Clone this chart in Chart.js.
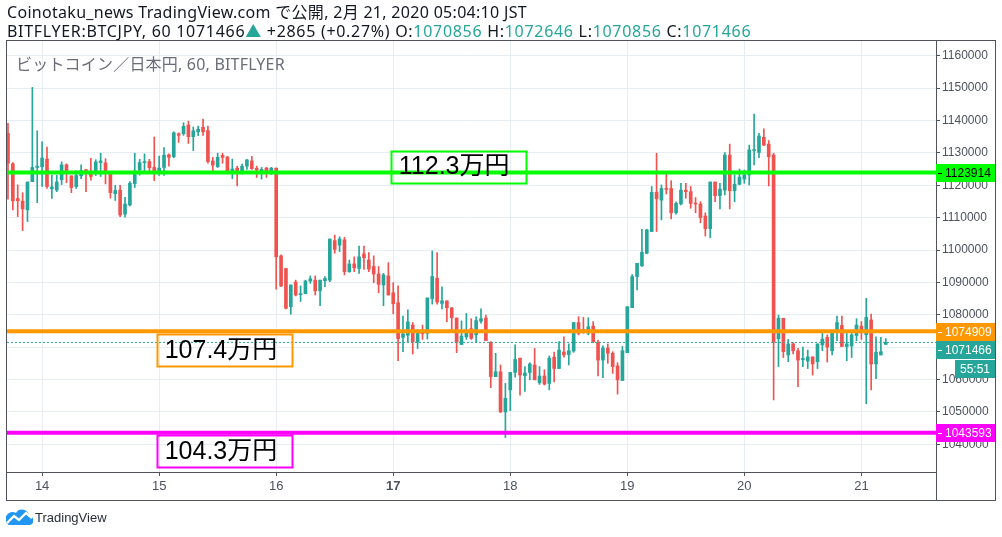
<!DOCTYPE html>
<html>
<head>
<meta charset="utf-8">
<script src="https://cdn.jsdelivr.net/npm/chart.js@4/dist/chart.umd.min.js"></script>
<style>
  body { margin: 0; background: #fff; width: 1002px; height: 537px; overflow: hidden; position: relative; }
  #chart { position: absolute; left: 0; top: 0; }
  #hdr { position: absolute; left: 7px; top: 3px; font: 16px "Noto Sans", "Noto Sans CJK JP", sans-serif; color: #131722; line-height: 19px; white-space: nowrap; }
  #hdr .l1 { letter-spacing: 0.3px; }
  #hdr .l2 { letter-spacing: 0.7px; }
  #hdr .v { color: #26a69a; }
  #legend { position: absolute; left: 16px; top: 51px; font: 16px "Noto Sans", "Noto Sans CJK JP", sans-serif; letter-spacing: 0.2px; color: #6a6d78; white-space: nowrap; }
  #foot { position: absolute; left: 6px; top: 508px; font: 13px "Liberation Sans", sans-serif; color: #2a2e39; display: flex; align-items: center; }
  #foot svg { margin-right: 2px; }
</style>
</head>
<body>
<canvas id="chart" width="1002" height="537"></canvas>
<div id="hdr">
  <div class="l1">Coinotaku_news TradingView.com で公開, 2月 21, 2020 05:04:10 JST</div>
  <div class="l2">BITFLYER:BTCJPY, 60 1071466<span class="v">▲</span> +2865 (+0.27%) O:<span class="v">1070856</span> H:<span class="v">1072646</span> L:<span class="v">1070856</span> C:<span class="v">1071466</span></div>
</div>
<div id="legend">ビットコイン／日本円, 60, BITFLYER</div>
<div id="foot">
  <svg width="27" height="18" viewBox="0 0 27 18"><path d="M3 17 H23 A4.5 4.5 0 0 0 23 8 A7 7 0 0 0 10 5 A6 6 0 0 0 3 17Z" fill="#2196f3"/><polyline points="1,15 8,8 13,12 20,5 26,10" stroke="#fff" stroke-width="2.4" fill="none"/></svg>
  <span>TradingView</span>
</div>
<script>
// hourly candles, first one is 13 Feb 17:00 (hour -7 from 14 Feb 00:00)
const FIRST_HOUR = -7;
const OPEN = [
  1136000, 1126600, 1115900, 1115100, 1112400, 1121100, 1125500, 1125700, 1128100, 1118900,
  1118500, 1121700, 1126300, 1122900, 1119600, 1122900, 1124700, 1123700, 1123900, 1127000,
  1126900, 1124200, 1117400, 1118500, 1111100, 1113900, 1120500, 1124700, 1127000, 1127300,
  1125500, 1124200, 1125500, 1129400, 1128800, 1135900, 1135900, 1138600, 1135000, 1136500,
  1137900, 1136900, 1127500, 1125700, 1129200, 1128700, 1124500, 1125300, 1124100, 1125900,
  1127500, 1125200, 1124500, 1125300, 1124100, 1125300, 1098200, 1094300, 1082500, 1090100,
  1086200, 1086500, 1090400, 1090700, 1087400, 1090500, 1090700, 1102900, 1101500, 1103100,
  1093300, 1095700, 1094300, 1098800, 1096900, 1094900, 1092600, 1089200, 1092000, 1086800,
  1083700, 1073000, 1073700, 1076800, 1071600, 1074500, 1074300, 1085000, 1091300, 1083500,
  1084300, 1082100, 1079000, 1070800, 1073200, 1075700, 1073800, 1078000, 1079000, 1071500,
  1060900, 1062400, 1050000, 1056800, 1062200, 1066600, 1061200, 1062200, 1064500, 1059000,
  1061100, 1058800, 1066900, 1063400, 1068500, 1067700, 1068800, 1077600, 1075500, 1074300,
  1076500, 1071500, 1066000, 1069700, 1068100, 1064200, 1059700, 1068300, 1082200, 1091800,
  1095100, 1099000, 1105700, 1117800, 1115400, 1119000, 1119000, 1111500, 1114200, 1118500,
  1118000, 1114500, 1114200, 1110500, 1106600, 1121000, 1116800, 1118500, 1129300, 1118300,
  1120300, 1121900, 1123200, 1130700, 1130100, 1134800, 1132700, 1129300, 1072600, 1078900,
  1067600, 1071000, 1068900, 1066100, 1065700, 1067000, 1065500, 1070700, 1073000, 1068900,
  1074500, 1076700, 1070200, 1070400, 1073600, 1076500, 1073800, 1078400, 1064800, 1067600,
  1070856
];
const HIGH = [
  1139100, 1127000, 1120100, 1117700, 1121000, 1150200, 1136800, 1133400, 1131800, 1123100,
  1123100, 1127200, 1126600, 1122900, 1124500, 1126300, 1124900, 1128300, 1127900, 1129900,
  1128200, 1124200, 1120000, 1120000, 1116300, 1121100, 1129900, 1128000, 1129700, 1128000,
  1134900, 1129000, 1131600, 1129700, 1136500, 1136200, 1139300, 1139800, 1138000, 1138300,
  1140400, 1138300, 1128600, 1129900, 1129900, 1128900, 1128100, 1125900, 1126500, 1128000,
  1128900, 1125900, 1125500, 1125500, 1125500, 1125300, 1098500, 1094300, 1089200, 1090700,
  1088900, 1090700, 1092000, 1092000, 1090700, 1091800, 1103400, 1104600, 1104100, 1103900,
  1096900, 1097900, 1101200, 1101200, 1099200, 1098200, 1094900, 1092800, 1096100, 1089900,
  1088900, 1079600, 1081500, 1077600, 1075500, 1076800, 1085200, 1099700, 1099200, 1088600,
  1084300, 1082300, 1079000, 1078100, 1080400, 1078800, 1079400, 1081800, 1079900, 1071700,
  1068100, 1064500, 1058800, 1062200, 1070700, 1066600, 1064000, 1065200, 1069600, 1064000,
  1063000, 1067300, 1068500, 1071700, 1073200, 1071000, 1077600, 1079400, 1079200, 1079100,
  1077900, 1072200, 1070400, 1071000, 1068600, 1065200, 1070200, 1082500, 1092400, 1095900,
  1106400, 1106400, 1119600, 1129900, 1120100, 1123400, 1121400, 1114900, 1120600, 1120600,
  1119600, 1116200, 1114900, 1111500, 1121000, 1121000, 1120600, 1130100, 1132700, 1123200,
  1125000, 1124700, 1132400, 1142000, 1136000, 1137400, 1133800, 1129900, 1079900, 1078900,
  1072400, 1071400, 1069600, 1070000, 1069100, 1067000, 1071000, 1074500, 1073800, 1074300,
  1079600, 1079600, 1074300, 1074500, 1078800, 1077900, 1085100, 1080200, 1073200, 1073000,
  1072646
];
const LOW = [
  1115700, 1112400, 1110300, 1106000, 1108800, 1121100, 1114600, 1119600, 1119000, 1115900,
  1118000, 1120200, 1120800, 1117700, 1119000, 1122000, 1118000, 1121600, 1123000, 1122700,
  1120400, 1116000, 1115300, 1110300, 1110100, 1113600, 1119300, 1123100, 1124100, 1124200,
  1121400, 1123000, 1123000, 1125900, 1128500, 1133200, 1135400, 1132900, 1130700, 1135300,
  1135400, 1126800, 1124500, 1125500, 1126800, 1124200, 1122000, 1119800, 1123400, 1124900,
  1124900, 1122400, 1121900, 1122400, 1123300, 1087900, 1088700, 1081800, 1080200, 1085800,
  1084100, 1086500, 1089700, 1086100, 1082800, 1088700, 1090200, 1099000, 1099500, 1092300,
  1093100, 1093300, 1092800, 1094000, 1093300, 1089900, 1086800, 1082800, 1086100, 1080300,
  1065800, 1068600, 1071700, 1067900, 1069600, 1072400, 1072500, 1083300, 1083300, 1081800,
  1077900, 1075300, 1068300, 1070800, 1072400, 1072400, 1071400, 1077400, 1072000, 1057500,
  1060900, 1049800, 1042100, 1050400, 1060700, 1055200, 1056300, 1059900, 1059900, 1058500,
  1058300, 1056800, 1059300, 1063400, 1066900, 1064500, 1068400, 1073800, 1074300, 1073800,
  1071400, 1061100, 1060600, 1065000, 1061900, 1055500, 1059700, 1068300, 1082200, 1087700,
  1094900, 1098800, 1105700, 1105700, 1109300, 1117300, 1109600, 1111100, 1113900, 1116000,
  1112900, 1111500, 1108400, 1104300, 1103800, 1114900, 1112700, 1117000, 1112700, 1114900,
  1120100, 1120600, 1120100, 1126300, 1128500, 1132200, 1119800, 1053700, 1064000, 1066800,
  1065500, 1067900, 1057800, 1064000, 1063400, 1061400, 1063400, 1068900, 1065400, 1067600,
  1072000, 1070200, 1065800, 1066800, 1072000, 1072400, 1052500, 1056800, 1060300, 1067600,
  1070856
];
const CLOSE = [
  1126800, 1115200, 1115200, 1112700, 1121000, 1125500, 1125900, 1128400, 1119600, 1119500,
  1121000, 1126300, 1124300, 1119300, 1123000, 1124500, 1124500, 1122700, 1127200, 1127500,
  1124200, 1117700, 1118400, 1110800, 1114200, 1120600, 1124400, 1127000, 1127200, 1125400,
  1124100, 1125300, 1129300, 1128600, 1136200, 1135400, 1138200, 1135000, 1136800, 1137300,
  1136500, 1127300, 1126200, 1128600, 1128600, 1124300, 1125000, 1124100, 1125900, 1127800,
  1125100, 1124700, 1124900, 1124100, 1125300, 1097900, 1088900, 1082000, 1089200, 1086100,
  1086500, 1090400, 1091100, 1087400, 1090700, 1091200, 1103400, 1100200, 1103400, 1093300,
  1095700, 1094500, 1097900, 1097600, 1094100, 1092600, 1089400, 1092300, 1086100, 1083400,
  1072600, 1074100, 1077800, 1071600, 1074300, 1074100, 1085200, 1091800, 1083900, 1084300,
  1082200, 1079100, 1071500, 1073400, 1074300, 1072700, 1078200, 1078800, 1072000, 1060900,
  1062400, 1050000, 1054200, 1062200, 1066200, 1061400, 1062000, 1064800, 1059900, 1061100,
  1058600, 1066600, 1063400, 1069100, 1067600, 1068900, 1077600, 1074300, 1075100, 1076300,
  1071600, 1066000, 1069700, 1068100, 1064000, 1059900, 1068900, 1082500, 1091800, 1095900,
  1099300, 1106200, 1117800, 1115800, 1119000, 1118700, 1111500, 1114400, 1118500, 1118000,
  1114400, 1114200, 1110000, 1106600, 1121000, 1116800, 1118800, 1129300, 1118300, 1120300,
  1122500, 1123200, 1130900, 1131000, 1135200, 1132400, 1128800, 1071500, 1078900, 1068600,
  1071000, 1068900, 1066000, 1066500, 1067000, 1064800, 1071000, 1072500, 1070000, 1074300,
  1077600, 1070200, 1071000, 1073800, 1076800, 1075100, 1079200, 1064800, 1068400, 1068600,
  1071466
];
const DAY_LABELS = ['14', '15', '16', '17', '18', '19', '20', '21'];
const PRICE_TICKS = [1040000, 1050000, 1060000, 1070000, 1080000, 1090000, 1100000,
                     1110000, 1120000, 1130000, 1140000, 1150000, 1160000];
const LEVELS = [1123914, 1074909, 1043593];
const LEVEL_COLORS = ['#00ff00', '#ff9800', '#ff00ff'];
const LEVEL_NOTES = ['112.3万円', '107.4万円', '104.3万円'];
const LAST_PRICE = 1071466;
const COUNTDOWN = '55:51';

const UP = '#26a69a';
const DOWN = '#ef5350';
const FRAME = '#50535e';
const GRID = '#e6eef4';
const X_MIN = -7.2, X_MAX = 183.3;
const X_END = [X_MIN, X_MAX];

const candleColor = OPEN.map((o, i) => CLOSE[i] >= o ? UP : DOWN);
const hourOf = i => FIRST_HOUR + i;

const levelLine = (y, color, width, dash) => ({
    type: 'line',
    data: X_END.map(x => ({ x: x, y: y })),
    borderColor: color,
    borderWidth: width,
    borderDash: dash || [],
    pointRadius: 0,
    order: 0
});

// note boxes: left edge in hours, pixel offset of box top from the level line
const NOTE_POS = [
    { hour: 71.5, dy: -22 },
    { hour: 23.5, dy: 3 },
    { hour: 23.5, dy: 2 }
];

const overlay = {
    id: 'overlay',
    afterDraw(chart) {
        const ctx = chart.ctx;
        const xs = chart.scales.x, ys = chart.scales.y;
        const area = chart.chartArea;
        ctx.save();
        // frame
        ctx.strokeStyle = FRAME;
        ctx.lineWidth = 1;
        ctx.strokeRect(6.5, 40.5, 989, 460);
        ctx.beginPath();
        ctx.moveTo(area.right + 0.5, 41);
        ctx.lineTo(area.right + 0.5, 500);
        ctx.stroke();

        // notes on chart
        ctx.font = '25px "Liberation Sans", "Noto Sans CJK JP", sans-serif';
        ctx.textBaseline = 'middle';
        ctx.textAlign = 'left';
        LEVELS.forEach((lv, i) => {
            const x = xs.getPixelForValue(NOTE_POS[i].hour);
            const top = ys.getPixelForValue(lv) + NOTE_POS[i].dy;
            ctx.strokeStyle = LEVEL_COLORS[i];
            ctx.lineWidth = 2;
            ctx.strokeRect(Math.round(x) + 0.5, Math.round(top) + 0.5, 135, 32);
            ctx.fillStyle = '#000';
            ctx.fillText(LEVEL_NOTES[i], x + 8, top + 17);
        });

        // price tags on the right axis
        ctx.font = '12px "Liberation Sans", sans-serif';
        const tags = [
            { v: LEVELS[0], bg: LEVEL_COLORS[0], fg: '#000' },
            { v: LEVELS[1], bg: LEVEL_COLORS[1], fg: '#fff' },
            { v: LAST_PRICE, bg: UP, fg: '#fff' },
            { v: LEVELS[2], bg: LEVEL_COLORS[2], fg: '#fff' }
        ];
        let prevBottom = -1;
        tags.forEach(t => {
            const yc = ys.getPixelForValue(t.v);
            let top = Math.round(yc - 8.5);
            if (top < prevBottom && Math.abs(top - prevBottom) < 17) top = prevBottom;
            prevBottom = top + 18;
            ctx.fillStyle = t.bg;
            ctx.fillRect(area.right, top, 59, 18);
            ctx.fillStyle = t.fg;
            ctx.fillRect(area.right + 2, top + 9, 4, 1);
            ctx.fillText(String(t.v), area.right + 9, top + 9.5);
            if (t.v === LAST_PRICE) {
                ctx.fillStyle = UP;
                ctx.fillRect(area.right + 19, top + 19, 40, 18);
                ctx.fillStyle = '#fff';
                ctx.fillText(COUNTDOWN, area.right + 24, top + 28.5);
            }
        });
        ctx.restore();
    }
};

new Chart(document.getElementById('chart'), {
    type: 'bar',
    data: {
        datasets: [
            levelLine(LEVELS[0], LEVEL_COLORS[0], 4),
            levelLine(LEVELS[1], LEVEL_COLORS[1], 4),
            levelLine(LEVELS[2], LEVEL_COLORS[2], 4),
            levelLine(LAST_PRICE, UP, 1, [2, 2]),
            {
                // bodies
                data: OPEN.map((o, i) => ({ x: hourOf(i), y: [o, CLOSE[i]] })),
                backgroundColor: candleColor,
                barThickness: 3,
                minBarLength: 1,
                grouped: false,
                order: 1
            },
            {
                // wicks
                data: LOW.map((l, i) => ({ x: hourOf(i), y: [l, HIGH[i]] })),
                backgroundColor: candleColor,
                barThickness: 1,
                grouped: false,
                order: 2
            }
        ]
    },
    options: {
        responsive: false,
        animation: false,
        devicePixelRatio: 1,
        layout: { padding: { left: 7, top: 41, right: 7, bottom: 37 } },
        plugins: { legend: { display: false }, tooltip: { enabled: false } },
        scales: {
            x: {
                type: 'linear',
                min: X_MIN,
                max: X_MAX,
                offset: false,
                afterBuildTicks: scale => {
                    scale.ticks = DAY_LABELS.map((d, i) => ({ value: i * 24 }));
                },
                afterFit: scale => { scale.height = 28; },
                grid: { color: GRID, tickColor: FRAME, tickLength: 4, offset: false },
                border: { color: FRAME },
                ticks: {
                    color: '#4c525e',
                    padding: 3,
                    maxRotation: 0,
                    autoSkip: false,
                    font: ctx => ({
                        family: '"Liberation Sans", sans-serif',
                        size: 13,
                        weight: DAY_LABELS[ctx.index] === '17' ? 'bold' : 'normal'
                    }),
                    callback: (v, i) => DAY_LABELS[i]
                }
            },
            y: {
                position: 'right',
                min: 1031446,
                max: 1164540,
                afterBuildTicks: scale => {
                    scale.ticks = PRICE_TICKS.map(v => ({ value: v }));
                },
                afterFit: scale => { scale.width = 59; },
                grid: { color: GRID, tickColor: FRAME, tickLength: 4 },
                border: { color: FRAME },
                ticks: {
                    color: '#4c525e',
                    padding: 2,
                    autoSkip: false,
                    font: { family: '"Liberation Sans", sans-serif', size: 12 },
                    callback: v => String(v)
                }
            }
        }
    },
    plugins: [overlay]
});
</script>
</body>
</html>
